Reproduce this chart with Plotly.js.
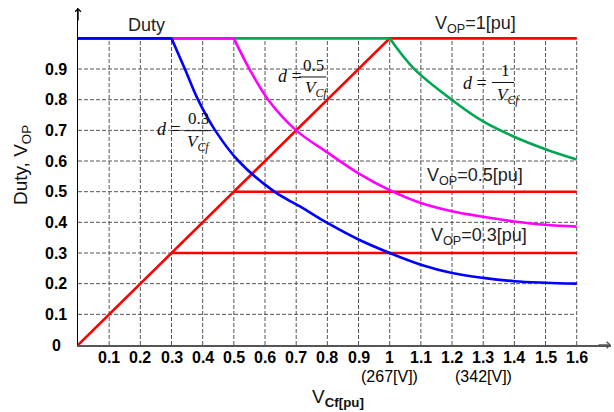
<!DOCTYPE html>
<html>
<head>
<meta charset="utf-8">
<script src="https://cdn.plot.ly/plotly-3.0.1.min.js"></script>
<style>
  html, body { margin: 0; padding: 0; background: #fff; }
  #chart { width: 614px; height: 412px; }
</style>
</head>
<body>
<div id="chart"></div>
<script>
// Duty ratio d = k / V_Cf (clamped at 1) for three output voltages
const blueX = [0, 0.30, 0.343, 0.385, 0.44, 0.515, 0.63, 0.712, 0.80, 0.90, 1.0, 1.1, 1.2, 1.3, 1.4, 1.5, 1.6];
const blueY = [1, 1, 0.90, 0.80, 0.70, 0.60, 0.50, 0.452, 0.398, 0.344, 0.300, 0.262, 0.235, 0.219, 0.208, 0.203, 0.200];

const magentaX = [0, 0.50, 0.55, 0.61, 0.70, 0.80, 0.90, 1.0, 1.1, 1.2, 1.3, 1.4, 1.5, 1.6];
const magentaY = [1, 1, 0.90, 0.80, 0.70, 0.628, 0.560, 0.505, 0.463, 0.436, 0.418, 0.403, 0.392, 0.386];

const greenX = [0, 1.0, 1.076, 1.199, 1.30, 1.397, 1.504, 1.6];
const greenY = [1, 1, 0.903, 0.80, 0.729, 0.68, 0.637, 0.605];

// Output voltage V_OP
const vopX = [0, 1.0, 1.6];
const vopY = [0, 1.0, 1.0];
const vop05X = [0.5, 1.6];
const vop05Y = [0.5, 0.5];
const vop03X = [0.3, 1.6];
const vop03Y = [0.3, 0.3];

// Tick labels
const xTickVals = [0.1, 0.2, 0.3, 0.4, 0.5, 0.6, 0.7, 0.8, 0.9, 1.0, 1.1, 1.2, 1.3, 1.4, 1.5, 1.6];
const xTickText = ['0.1', '0.2', '0.3', '0.4', '0.5', '0.6', '0.7', '0.8', '0.9', '1',
                   '1.1', '1.2', '1.3', '1.4', '1.5', '1.6'];
const xTickSub = {1.0: '(267[V])', 1.3: '(342[V])'};
const yTickVals = [0, 0.1, 0.2, 0.3, 0.4, 0.5, 0.6, 0.7, 0.8, 0.9];
const yTickText = ['0', '0.1', '0.2', '0.3', '0.4', '0.5', '0.6', '0.7', '0.8', '0.9'];
const yGridVals = [0.1, 0.2, 0.3, 0.4, 0.5, 0.6, 0.7, 0.8, 0.9, 1.0];

const X_MAX = 1.6, Y_MAX = 1.0;

// dashed grid, limited to the data region
const gx = [], gy = [];
xTickVals.forEach(v => { gx.push(v, v, null); gy.push(0, Y_MAX, null); });
yGridVals.forEach(v => { gx.push(0, X_MAX, null); gy.push(v, v, null); });

const traces = [];
traces.push({x: gx, y: gy, mode: 'lines', hoverinfo: 'skip',
  line: {color: '#555', width: 1, dash: '4px,2px'}});

function addVop(x, y) {
  traces.push({x: x, y: y, mode: 'lines', line: {color: '#ff0000', width: 2.6}});
}
addVop(vopX, vopY);
addVop(vop05X, vop05Y);
addVop(vop03X, vop03Y);

// flat part drawn straight, curved part smoothed
function addDuty(x, y, color) {
  traces.push({x: x.slice(0, 2), y: y.slice(0, 2), mode: 'lines', line: {color: color, width: 2.6}});
  traces.push({x: x.slice(1), y: y.slice(1), mode: 'lines',
    line: {color: color, width: 2.6, shape: 'spline', smoothing: 1}});
}
addDuty(greenX, greenY, '#00a650');
addDuty(magentaX, magentaY, '#ff00ff');
addDuty(blueX, blueY, '#0000ff');

const sans = 'Liberation Sans, Arial, sans-serif';
const serif = 'Liberation Serif, Times New Roman, serif';

function label(x, y, text, size, color) {
  return {x: x, y: y, xref: 'x', yref: 'y', text: text, showarrow: false,
    xanchor: 'center', yanchor: 'middle', font: {family: sans, size: size, color: color || '#222'}};
}
function formula(x, y, text, size) {
  return {x: x, y: y, xref: 'x', yref: 'y', text: text, showarrow: false,
    xanchor: 'center', yanchor: 'middle', font: {family: serif, size: size || 17, color: '#111'}};
}

const tickFont = {family: sans, size: 16, color: '#000', weight: 'bold'};

const annotations = [
  label(0.221, 1.045, 'Duty', 18),
  label(1.274, 1.045, 'V<sub>OP</sub>=1[pu]', 18),
  label(1.274, 0.549, 'V<sub>OP</sub>=0.5[pu]', 18),
  label(1.287, 0.354, 'V<sub>OP</sub>=0.3[pu]', 18),

  formula(0.292, 0.703, '<i>d</i> =', 18),
  formula(0.385, 0.740, '0.3'),
  formula(0.388, 0.658, '<i>V<sub>Cf</sub></i>'),

  formula(0.680, 0.876, '<i>d</i> =', 18),
  formula(0.754, 0.913, '0.5'),
  formula(0.764, 0.834, '<i>V<sub>Cf</sub></i>'),

  formula(1.274, 0.856, '<i>d</i> =', 18),
  formula(1.370, 0.894, '1'),
  formula(1.380, 0.811, '<i>V<sub>Cf</sub></i>'),

  // axis titles
  {x: -0.105, y: 0.534, xref: 'paper', yref: 'paper', text: 'Duty, V<sub>OP</sub>', textangle: -90,
   showarrow: false, xanchor: 'center', yanchor: 'middle', font: {family: sans, size: 19, color: '#111'}},
  {x: 0.488, y: -0.157, xref: 'paper', yref: 'paper', text: 'V<sub><b>Cf[pu]</b></sub>',
   showarrow: false, xanchor: 'center', yanchor: 'middle', font: {family: sans, size: 19, color: '#111'}},

  // arrow heads on the axes
  {x: 1, y: 0, xref: 'paper', yref: 'paper', ax: -14, ay: 0, axref: 'pixel', ayref: 'pixel',
   showarrow: true, arrowhead: 4, arrowsize: 0.8, arrowwidth: 1.6, arrowcolor: '#555', text: ''},
  {x: 0, y: 1, xref: 'paper', yref: 'paper', ax: 0, ay: 14, axref: 'pixel', ayref: 'pixel',
   showarrow: true, arrowhead: 4, arrowsize: 0.8, arrowwidth: 1.4, arrowcolor: '#000', text: ''}
];

// tick labels: x labels centred under the grid lines, y labels centred in a column
xTickVals.forEach((v, i) => {
  annotations.push({x: v, y: 0, xref: 'x', yref: 'paper', text: xTickText[i], showarrow: false,
    xanchor: 'center', yanchor: 'middle', yshift: -12, font: tickFont});
  if (xTickSub[v]) {
    annotations.push({x: v, y: 0, xref: 'x', yref: 'paper', text: xTickSub[v], showarrow: false,
      xanchor: 'center', yanchor: 'middle', yshift: -31,
      font: {family: sans, size: 16, color: '#000'}});
  }
});
yTickVals.forEach((v, i) => {
  annotations.push({x: 0, y: v, xref: 'paper', yref: 'y', text: yTickText[i], showarrow: false,
    xanchor: 'center', yanchor: 'middle', xshift: -22, font: tickFont});
});

// fraction bars
function bar(x0, x1, y) {
  return {type: 'line', xref: 'x', yref: 'y', x0: x0, x1: x1, y0: y, y1: y,
    line: {color: '#111', width: 1}};
}
const shapes = [
  bar(0.340, 0.427, 0.699),
  bar(0.709, 0.796, 0.874),
  bar(1.328, 1.399, 0.856)
];

const layout = {
  width: 614, height: 412,
  margin: {l: 78, r: 3, t: 8, b: 67},
  paper_bgcolor: '#fff', plot_bgcolor: '#fff',
  showlegend: false,
  xaxis: {range: [0, 1.710], showgrid: false, zeroline: false,
    showline: true, linecolor: '#555', linewidth: 2,
    tickvals: xTickVals, showticklabels: false, ticks: ''},
  yaxis: {range: [0, 1.099], showgrid: false, zeroline: false,
    showline: true, linecolor: '#000', linewidth: 1.5,
    tickvals: yTickVals, showticklabels: false, ticks: ''},
  annotations: annotations,
  shapes: shapes
};

Plotly.newPlot('chart', traces, layout, {displayModeBar: false, staticPlot: true});
</script>
</body>
</html>
